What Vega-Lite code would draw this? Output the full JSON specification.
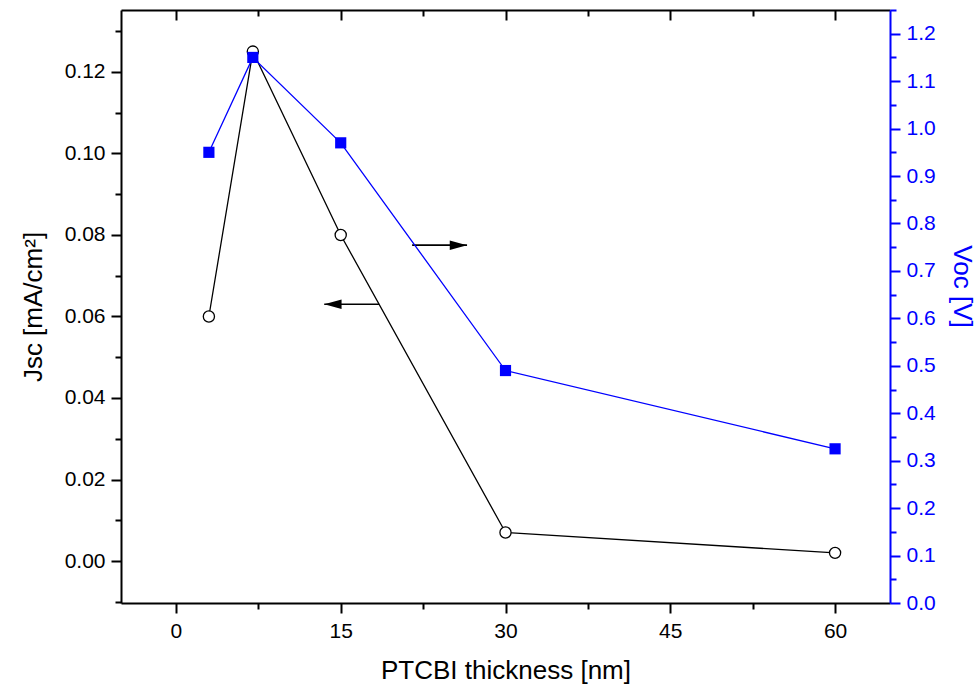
{
  "$schema": "https://vega.github.io/schema/vega-lite/v6.json",
  "width": 769,
  "height": 593,
  "autosize": "none",
  "padding": {"left": 121, "top": 10, "right": 88, "bottom": 85},
  "background": "white",
  "config": {
    "view": {"stroke": null},
    "font": "Liberation Sans",
    "axis": {
      "grid": false,
      "labelFont": "Liberation Sans",
      "titleFont": "Liberation Sans",
      "titleFontWeight": "normal",
      "labelColor": "black",
      "titleColor": "black",
      "tickColor": "black",
      "domainColor": "black",
      "tickWidth": 2,
      "domainWidth": 2,
      "labelFontSize": 21,
      "titleFontSize": 26
    }
  },
  "datasets": {
    "jsc": [
      {"thickness": 3, "Jsc": 0.06},
      {"thickness": 7, "Jsc": 0.125},
      {"thickness": 15, "Jsc": 0.08},
      {"thickness": 30, "Jsc": 0.007},
      {"thickness": 60, "Jsc": 0.002}
    ],
    "voc": [
      {"thickness": 3, "Voc": 0.95},
      {"thickness": 7, "Voc": 1.15},
      {"thickness": 15, "Voc": 0.97},
      {"thickness": 30, "Voc": 0.49},
      {"thickness": 60, "Voc": 0.325}
    ],
    "arrows": [
      {"tail": 21.5, "head": 26.5, "level": 0.0775, "dir": "right"},
      {"tail": 18.5, "head": 13.5, "level": 0.063, "dir": "left"}
    ]
  },
  "layer": [
    {
      "layer": [
        {
          "data": {"name": "jsc"},
          "mark": {"type": "line", "color": "black", "strokeWidth": 1.3},
          "encoding": {
            "x": {
              "field": "thickness", "type": "quantitative",
              "scale": {"domain": [-5, 65], "nice": false, "zero": false},
              "axis": {
                "orient": "bottom", "values": [0, 15, 30, 45, 60],
                "tickSize": 10, "labelPadding": 7, "domain": true,
                "title": "PTCBI thickness [nm]", "titlePadding": 16
              }
            },
            "y": {
              "field": "Jsc", "type": "quantitative",
              "scale": {"domain": [-0.0103, 0.1352], "nice": false, "zero": false},
              "axis": {
                "orient": "left", "values": [0, 0.02, 0.04, 0.06, 0.08, 0.1, 0.12],
                "format": ".2f", "tickSize": 10, "labelPadding": 6, "domain": true,
                "title": "Jsc [mA/cm²]", "titlePadding": 18
              }
            }
          }
        },
        {
          "data": {"name": "jsc"},
          "mark": {"type": "point", "shape": "circle", "filled": true, "fill": "white", "stroke": "black", "strokeWidth": 1.3, "size": 125, "opacity": 1},
          "encoding": {
            "x": {
              "field": "thickness", "type": "quantitative",
              "scale": {"domain": [-5, 65], "nice": false, "zero": false},
              "axis": {
                "orient": "bottom", "values": [7.5, 22.5, 37.5, 52.5],
                "tickSize": 6, "labels": false, "domain": false, "title": null
              }
            },
            "y": {
              "field": "Jsc", "type": "quantitative",
              "scale": {"domain": [-0.0103, 0.1352], "nice": false, "zero": false},
              "axis": {
                "orient": "left", "values": [-0.01, 0.01, 0.03, 0.05, 0.07, 0.09, 0.11, 0.13],
                "tickSize": 6, "labels": false, "domain": false, "title": null
              }
            }
          }
        },
        {
          "data": {"name": "arrows"},
          "mark": {"type": "rule", "color": "black", "strokeWidth": 1.6},
          "encoding": {
            "x": {
              "field": "tail", "type": "quantitative",
              "scale": {"domain": [-5, 65], "nice": false, "zero": false},
              "axis": {
                "orient": "top", "values": [0, 15, 30, 45, 60],
                "tickSize": -10, "labels": false, "domain": true, "title": null
              }
            },
            "x2": {"field": "head"},
            "y": {
              "field": "level", "type": "quantitative",
              "scale": {"domain": [-0.0103, 0.1352], "nice": false, "zero": false},
              "axis": null
            }
          }
        },
        {
          "data": {"name": "arrows"},
          "mark": {"type": "point", "filled": true, "color": "black", "size": 300, "opacity": 1},
          "encoding": {
            "x": {
              "field": "head", "type": "quantitative",
              "scale": {"domain": [-5, 65], "nice": false, "zero": false},
              "axis": {
                "orient": "top", "values": [7.5, 22.5, 37.5, 52.5],
                "tickSize": -6, "labels": false, "domain": false, "title": null
              }
            },
            "y": {
              "field": "level", "type": "quantitative",
              "scale": {"domain": [-0.0103, 0.1352], "nice": false, "zero": false},
              "axis": null
            },
            "shape": {
              "field": "dir", "type": "nominal",
              "scale": {"domain": ["right", "left"], "range": ["M-2,-0.55L0,0L-2,0.55Z", "M2,-0.55L0,0L2,0.55Z"]},
              "legend": null
            }
          }
        }
      ],
      "resolve": {"axis": {"x": "independent", "y": "independent"}}
    },
    {
      "layer": [
        {
          "data": {"name": "voc"},
          "mark": {"type": "line", "color": "#0000FF", "strokeWidth": 1.3},
          "encoding": {
            "x": {
              "field": "thickness", "type": "quantitative",
              "scale": {"domain": [-5, 65], "nice": false, "zero": false},
              "axis": null
            },
            "y": {
              "field": "Voc", "type": "quantitative",
              "scale": {"domain": [0, 1.25], "nice": false, "zero": false},
              "axis": {
                "orient": "right",
                "values": [0, 0.1, 0.2, 0.3, 0.4, 0.5, 0.6, 0.7, 0.8, 0.9, 1.0, 1.1, 1.2],
                "format": ".1f", "tickSize": 10, "labelPadding": 6, "domain": true,
                "domainColor": "#0000FF", "tickColor": "#0000FF", "labelColor": "#0000FF",
                "titleColor": "#0000FF", "title": "Voc [V]", "titlePadding": 13, "titleY": 276
              }
            }
          }
        },
        {
          "data": {"name": "voc"},
          "mark": {"type": "point", "shape": "square", "filled": true, "color": "#0000FF", "size": 125, "opacity": 1},
          "encoding": {
            "x": {
              "field": "thickness", "type": "quantitative",
              "scale": {"domain": [-5, 65], "nice": false, "zero": false},
              "axis": null
            },
            "y": {
              "field": "Voc", "type": "quantitative",
              "scale": {"domain": [0, 1.25], "nice": false, "zero": false},
              "axis": {
                "orient": "right",
                "values": [0.05, 0.15, 0.25, 0.35, 0.45, 0.55, 0.65, 0.75, 0.85, 0.95, 1.05, 1.15, 1.25],
                "tickSize": 6, "labels": false, "domain": false, "title": null,
                "tickColor": "#0000FF"
              }
            }
          }
        }
      ],
      "resolve": {"axis": {"y": "independent"}}
    }
  ],
  "resolve": {"scale": {"y": "independent"}, "axis": {"x": "independent", "y": "independent"}}
}
